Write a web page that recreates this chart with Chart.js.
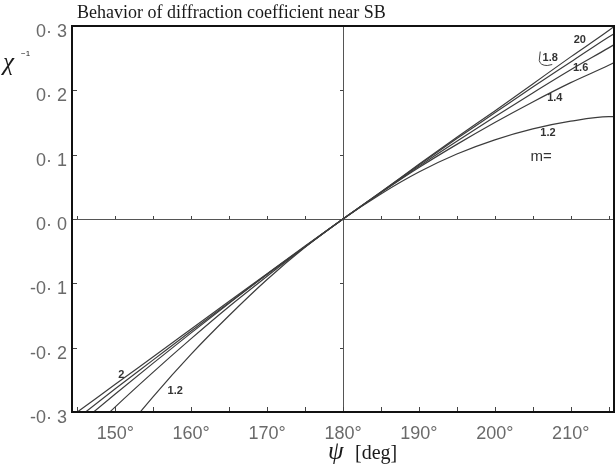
<!DOCTYPE html>
<html>
<head>
<meta charset="utf-8">
<script src="https://cdn.jsdelivr.net/npm/chart.js@4/dist/chart.umd.min.js"></script>
<style>
  html, body { margin: 0; padding: 0; background: #fff; }
  #wrap { width: 615px; height: 465px; }
</style>
</head>
<body>
<div id="wrap"><canvas id="chart"></canvas></div>
<script>
// psi [deg] and chi^-1, one list per m value
const psi  = [140, 145, 150, 155, 160, 165, 170, 175, 180, 185, 190, 195, 200, 205, 210, 215, 216]
const m20  = [-0.343, -0.300, -0.257, -0.214, -0.171, -0.128, -0.085, -0.042, 0, 0.042, 0.085, 0.127, 0.168, 0.210, 0.252, 0.293, 0.302]
const m18  = [-0.357, -0.310, -0.264, -0.219, -0.174, -0.130, -0.086, -0.043, 0, 0.042, 0.084, 0.125, 0.165, 0.205, 0.244, 0.283, 0.290]
const m16  = [-0.371, -0.321, -0.272, -0.224, -0.177, -0.131, -0.086, -0.043, 0, 0.041, 0.082, 0.121, 0.159, 0.196, 0.232, 0.266, 0.273]
const m14  = [-0.408, -0.349, -0.292, -0.238, -0.186, -0.136, -0.089, -0.043, 0, 0.041, 0.080, 0.116, 0.150, 0.182, 0.212, 0.239, 0.245]
const m12  = [-0.507, -0.425, -0.348, -0.276, -0.210, -0.150, -0.094, -0.044, 0, 0.039, 0.073, 0.101, 0.123, 0.140, 0.152, 0.159, 0.159]

const xTicks = [150, 160, 170, 180, 190, 200, 210]
const yTicks = [-0.3, -0.2, -0.1, 0, 0.1, 0.2, 0.3]
const xMinor = [145, 150, 155, 160, 165, 170, 175, 180, 185, 190, 195, 200, 205, 210, 215]

// curve labels, placed in data units
const curveLabels = [
  {text: "20",  x: 211.2, y: 0.279},
  {text: "1.8", x: 207.3, y: 0.251},
  {text: "1.6", x: 211.3, y: 0.234},
  {text: "1.4", x: 207.9, y: 0.188},
  {text: "1.2", x: 207.0, y: 0.134},
  {text: "2",   x: 150.8, y: -0.243},
  {text: "1.2", x: 157.9, y: -0.267}
]

const series = [m20, m18, m16, m14, m12]

const decor = {
  id: "decor",
  afterDatasetsDraw(chart) {
    const {ctx, chartArea: a, scales: {x, y}} = chart
    ctx.save()
    ctx.strokeStyle = "#444"
    ctx.lineWidth = 1
    const y0 = y.getPixelForValue(0)
    const x0 = x.getPixelForValue(180)
    xMinor.forEach(v => {
      const px = Math.round(x.getPixelForValue(v)) + 0.5
      ctx.beginPath(); ctx.moveTo(px, a.bottom); ctx.lineTo(px, a.bottom - 5); ctx.stroke()
      ctx.beginPath(); ctx.moveTo(px, y0); ctx.lineTo(px, y0 - 3); ctx.stroke()
    })
    yTicks.forEach(v => {
      const py = Math.round(y.getPixelForValue(v)) + 0.5
      ctx.beginPath(); ctx.moveTo(a.left, py); ctx.lineTo(a.left + 5, py); ctx.stroke()
      ctx.beginPath(); ctx.moveTo(x0 - 3, py); ctx.lineTo(x0, py); ctx.stroke()
    })

    // frame
    ctx.strokeStyle = "#111"
    ctx.lineWidth = 2
    ctx.strokeRect(a.left, a.top, a.right - a.left, a.bottom - a.top)

    // curve labels
    ctx.fillStyle = "#333"
    ctx.font = "bold 11px 'Liberation Sans'"
    ctx.textAlign = "center"
    ctx.textBaseline = "middle"
    curveLabels.forEach(l => ctx.fillText(l.text, x.getPixelForValue(l.x), y.getPixelForValue(l.y)))

    // little hook under the 1.8 label
    const hx = x.getPixelForValue(207.3), hy = y.getPixelForValue(0.251)
    ctx.lineWidth = 1
    ctx.strokeStyle = "#444"
    ctx.beginPath()
    ctx.moveTo(hx - 10, hy - 6)
    ctx.lineTo(hx - 11, hy + 3)
    ctx.quadraticCurveTo(hx - 10, hy + 8, hx - 3, hy + 8)
    ctx.lineTo(hx + 2, hy + 7)
    ctx.stroke()

    ctx.font = "15px 'Liberation Sans'"
    ctx.fillText("m=", x.getPixelForValue(206.1), y.getPixelForValue(0.096))

    // title
    ctx.textAlign = "left"
    ctx.textBaseline = "alphabetic"
    ctx.fillStyle = "#1a1a1a"
    ctx.font = "18px 'Liberation Serif'"
    ctx.fillText("Behavior of diffraction coefficient near SB", a.left + 5, 18)

    // y label
    ctx.font = "italic 25px 'Liberation Serif'"
    ctx.fillText("χ", 3, 70)
    ctx.font = "8px 'Liberation Sans'"
    ctx.fillText("−1", 21, 56)

    // x label
    const cx = x.getPixelForValue(180)
    ctx.font = "italic 25px 'Liberation Serif'"
    ctx.fillText("ψ", cx - 15, 459)
    ctx.font = "20px 'Liberation Serif'"
    ctx.fillText("[deg]", cx + 12, 459)
    ctx.restore()
  }
}

new Chart(document.getElementById("chart").getContext("2d"), {
  type: "line",
  data: {
    datasets: series.map(s => ({
      data: psi.map((p, i) => ({x: p, y: s[i]})),
      borderColor: "#3c3c3c",
      borderWidth: 1.2,
      pointRadius: 0,
      cubicInterpolationMode: "monotone",
      fill: false
    }))
  },
  options: {
    responsive: true,
    maintainAspectRatio: false,
    animation: false,
    layout: {padding: {top: 26, right: 1, left: 0, bottom: 0}},
    plugins: {legend: {display: false}, tooltip: {enabled: false}, title: {display: false}},
    scales: {
      x: {
        type: "linear",
        min: 144.3,
        max: 215.7,
        afterBuildTicks: s => { s.ticks = xTicks.map(v => ({value: v})) },
        afterFit: s => { s.height = 53 },
        grid: {
          drawTicks: false,
          color: c => (c.tick && c.tick.value === 180) ? "#555" : "rgba(0,0,0,0)",
          lineWidth: 1
        },
        border: {display: false},
        ticks: {
          padding: 11,
          color: "#6a6a6a",
          font: {family: "Liberation Sans", size: 18},
          maxRotation: 0,
          callback: v => v + "°"
        }
      },
      y: {
        min: -0.3,
        max: 0.3,
        afterBuildTicks: s => { s.ticks = yTicks.map(v => ({value: v})) },
        afterFit: s => { s.width = 72 },
        grid: {
          drawTicks: false,
          color: c => (c.tick && Math.abs(c.tick.value) < 1e-9) ? "#555" : "rgba(0,0,0,0)",
          lineWidth: 1
        },
        border: {display: false},
        ticks: {
          padding: 5,
          labelOffset: 6,
          color: "#6a6a6a",
          font: {family: "Liberation Sans", size: 18},
          callback: v => {
            const r = Math.round(v * 10) / 10
            return (r < 0 ? "-0· " : "0· ") + Math.abs(Math.round(r * 10))
          }
        }
      }
    }
  },
  plugins: [decor]
})
</script>
</body>
</html>
